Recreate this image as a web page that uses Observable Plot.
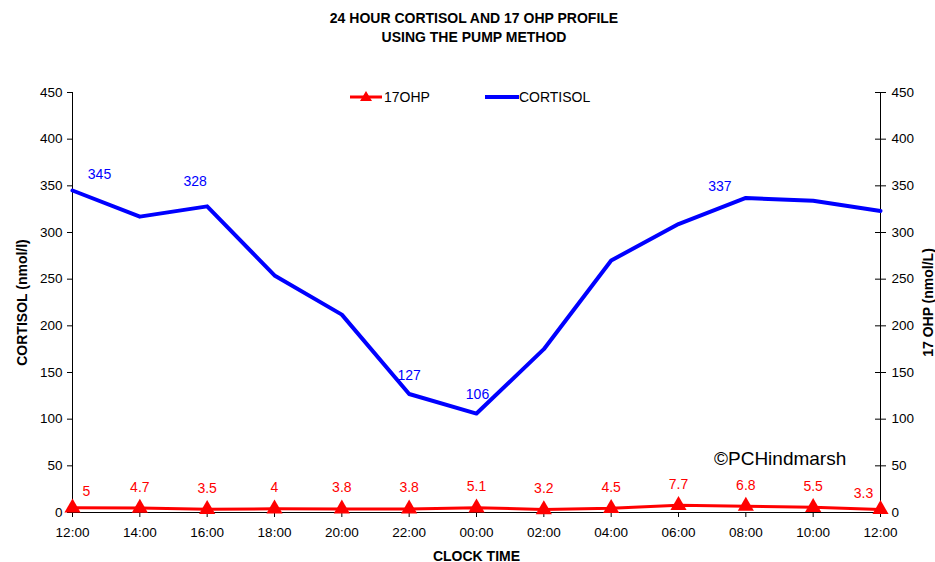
<!DOCTYPE html>
<html>
<head>
<meta charset="utf-8">
<script src="https://cdn.jsdelivr.net/npm/d3@7"></script>
<script src="https://cdn.jsdelivr.net/npm/@observablehq/plot@0.6"></script>
<style>
  body { margin: 0; background: #fff; font-family: "Liberation Sans", Arial, sans-serif; }
  #wrap { position: relative; width: 935px; height: 562px; }
  #title { position: absolute; left: 0; top: 9px; width: 948px; text-align: center; font-weight: bold; font-size: 14px; line-height: 19px; color: #000; }
  #legend { position: absolute; left: 349px; top: 89px; font-size: 14px; color: #000; display: flex; align-items: center; }
  #legend .item { display: flex; align-items: center; }
  #copy { position: absolute; left: 714px; top: 448px; font-size: 19px; color: #000; }
  #chart { position: absolute; left: 0; top: 0; }
</style>
</head>
<body>
<div id="wrap">
  <div id="chart"></div>
  <div id="title">24 HOUR CORTISOL AND 17 OHP PROFILE<br>USING THE PUMP METHOD</div>
  <div id="legend">
    <div class="item"><svg width="35" height="14"><line x1="1" y1="7" x2="33" y2="7" stroke="#ff0000" stroke-width="3"/><path d="M17,1 L23,11 L11,11 Z" fill="#ff0000"/></svg><span>17OHP</span></div>
    <div class="item" style="margin-left:55px"><svg width="34" height="14"><line x1="0" y1="7" x2="34" y2="7" stroke="#0000ff" stroke-width="4"/></svg><span>CORTISOL</span></div>
  </div>
  <div id="copy">©PCHindmarsh</div>
</div>
<script>
const times = ["12:00","14:00","16:00","18:00","20:00","22:00","00:00","02:00","04:00","06:00","08:00","10:00","12:00"];
const cortisol = [345, 317, 328, 254, 212, 127, 106, 175, 270, 309, 337, 334, 323];
const ohp = [5, 4.7, 3.5, 4, 3.8, 3.8, 5.1, 3.2, 4.5, 7.7, 6.8, 5.5, 3.3];
const cortisolLabelled = [0, 2, 5, 6, 10];
const yTicks = [0, 50, 100, 150, 200, 250, 300, 350, 400, 450];

const idx = times.map((t, i) => i);
const cData = idx.map(i => ({i, v: cortisol[i]}));
const oData = idx.map(i => ({i, v: ohp[i]}));

const font = "Liberation Sans, Arial, sans-serif";

// label placement (Excel-style offsets) per point index
const cOffsets = {0: [27, -16], 2: [-12, -25], 5: [0, -18], 6: [1, -19], 10: [-26, -11]};
const oOffsets = {0: [14, -16], 12: [-17, -16]};

function labelMarks(data, offsets, defaultOff, fill, include) {
  return data.filter(d => include(d.i)).map(d => {
    const [dx, dy] = offsets[d.i] || defaultOff;
    return Plot.text([d], {x: "i", y: "v", text: e => String(e.v), dx, dy, fill, fontSize: 14});
  });
}

const chart = Plot.plot({
  width: 935,
  height: 562,
  marginTop: 92,
  marginBottom: 50,
  marginLeft: 72,
  marginRight: 55,
  style: {fontFamily: font, fontSize: "13px", color: "#000", background: "#fff"},
  x: {domain: [0, 12]},
  y: {domain: [0, 450]},
  marks: [
    Plot.ruleX([0, 12], {stroke: "#000", strokeWidth: 1}),
    Plot.ruleY([0], {stroke: "#000", strokeWidth: 1}),
    Plot.axisX({ticks: idx, tickFormat: i => times[i], tickSize: 5, tickPadding: 10, fontSize: 13.5, label: null}),
    Plot.axisY({anchor: "left", ticks: yTicks, tickSize: 5, tickPadding: 5, fontSize: 13.5, label: null}),
    Plot.axisY({anchor: "right", ticks: yTicks, tickSize: 5, tickPadding: 6, fontSize: 13.5, label: null}),
    Plot.ruleY(yTicks, {x1: 12, x2: 12, insetLeft: -5, stroke: "#000"}),
    Plot.text(["CORTISOL (nmol/l)"], {frameAnchor: "left", textAnchor: "middle", rotate: -90, dx: -50, fontWeight: "bold", fontSize: 14}),
    Plot.text(["17 OHP (nmol/L)"], {frameAnchor: "right", textAnchor: "middle", rotate: -90, dx: 48, fontWeight: "bold", fontSize: 14}),
    Plot.text(["CLOCK TIME"], {frameAnchor: "bottom", dy: 48, fontWeight: "bold", fontSize: 14}),
    Plot.line(cData, {x: "i", y: "v", stroke: "#0000ff", strokeWidth: 4}),
    Plot.line(oData, {x: "i", y: "v", stroke: "#ff0000", strokeWidth: 3}),
    Plot.dot(oData, {x: "i", y: "v", symbol: "triangle", r: 6, fill: "#ff0000", stroke: "none"}),
    ...labelMarks(oData, oOffsets, [0, -21], "#ff0000", () => true),
    ...labelMarks(cData, cOffsets, [0, -18], "#0000ff", i => cortisolLabelled.includes(i))
  ]
});
document.getElementById("chart").appendChild(chart);
</script>
</body>
</html>
